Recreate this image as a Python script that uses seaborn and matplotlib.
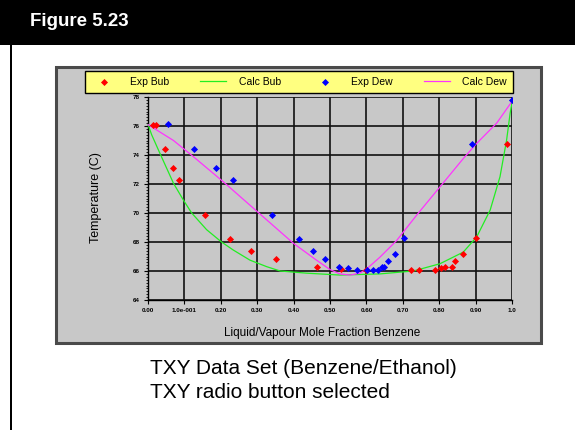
import numpy as np
import pandas as pd
import matplotlib
matplotlib.use("Agg")
import matplotlib.pyplot as plt
import matplotlib.patches as mpatches
import seaborn as sns

# experimental bubble points (liquid composition)
exp_bub_x = [0.013, 0.022, 0.047, 0.070, 0.086, 0.157, 0.225, 0.282, 0.352, 0.463, 0.530,
             0.599, 0.723, 0.745, 0.788, 0.804, 0.816, 0.834, 0.843, 0.866, 0.900, 0.985]
exp_bub_t = [76.1, 76.1, 74.4, 73.1, 72.25, 69.85, 68.2, 67.35, 66.85, 66.3, 66.12,
             66.05, 66.05, 66.05, 66.05, 66.2, 66.3, 66.3, 66.7, 67.2, 68.3, 74.75]

# experimental dew points (vapour composition)
exp_dew_x = [0.054, 0.126, 0.187, 0.233, 0.342, 0.415, 0.453, 0.487, 0.526, 0.550, 0.573,
             0.603, 0.619, 0.633, 0.642, 0.648, 0.659, 0.678, 0.702, 0.889, 0.999]
exp_dew_t = [76.15, 74.4, 73.1, 72.25, 69.85, 68.2, 67.35, 66.85, 66.3, 66.2, 66.05,
             66.05, 66.05, 66.1, 66.25, 66.3, 66.7, 67.2, 68.3, 74.75, 77.8]

# calculated curves
calc_bub_x = [0.0, 0.01, 0.033, 0.07, 0.097, 0.12, 0.161, 0.202, 0.234, 0.28, 0.326, 0.363,
              0.436, 0.527, 0.637, 0.729, 0.802, 0.866, 0.903, 0.94, 0.967, 0.985, 0.995, 1.0]
calc_bub_t = [76.1, 75.4, 74.1, 72.05, 70.9, 70.0, 68.85, 68.0, 67.45, 66.75, 66.3, 66.0,
              65.85, 65.72, 65.8, 66.0, 66.5, 67.3, 68.35, 70.2, 72.5, 75.0, 76.9, 77.6]

calc_dew_x = [0.0, 0.07, 0.124, 0.207, 0.30, 0.40, 0.46, 0.50, 0.527, 0.555, 0.582, 0.601,
              0.637, 0.683, 0.738, 0.802, 0.866, 0.903, 0.958, 1.0]
calc_dew_t = [76.1, 75.0, 73.9, 72.15, 70.1, 67.9, 66.8, 66.1, 65.8, 65.72, 65.85, 66.15,
              66.95, 68.1, 69.85, 71.8, 73.75, 74.8, 76.2, 77.7]

x_ticks = [0.0, 0.1, 0.2, 0.3, 0.4, 0.5, 0.6, 0.7, 0.8, 0.9, 1.0]
x_ticklabels = ["0.00", "1.0e-001", "0.20", "0.30", "0.40", "0.50", "0.60", "0.70", "0.80", "0.90", "1.0"]
y_ticks = [64, 66, 68, 70, 72, 74, 76, 78]

plt.rcParams["font.family"] = ["Liberation Sans", "DejaVu Sans"]

W, H = 575, 430
fig = plt.figure(figsize=(W / 100, H / 100), dpi=100)
fig.patch.set_facecolor("white")

def fx(px):
    return px / W

def fy(py):
    return 1 - py / H

# header bar and left rule
fig.patches.append(mpatches.Rectangle((0, fy(45)), 1, 45 / H, transform=fig.transFigure,
                                      facecolor="black", edgecolor="none", zorder=-5))
fig.patches.append(mpatches.Rectangle((fx(10), 0), 2 / W, fy(45), transform=fig.transFigure,
                                      facecolor="black", edgecolor="none", zorder=-5))
fig.text(fx(30), fy(22), "Figure 5.23", color="white", fontsize=13.5, fontweight="bold",
         va="center", ha="left")

# grey chart panel
fig.patches.append(mpatches.Rectangle((fx(56), fy(343)), 485 / W, 276 / H, transform=fig.transFigure,
                                      facecolor="#c8c8c8", edgecolor="#4a4a4a", linewidth=2.2, zorder=-5))

ax = fig.add_axes([fx(148), fy(300), 364 / W, 203 / H])
ax.set_facecolor("#c8c8c8")

bub = pd.DataFrame({"x": exp_bub_x, "t": exp_bub_t})
dew = pd.DataFrame({"x": exp_dew_x, "t": exp_dew_t})
cbub = pd.DataFrame({"x": calc_bub_x, "t": calc_bub_t})
cdew = pd.DataFrame({"x": calc_dew_x, "t": calc_dew_t})

sns.lineplot(data=cbub, x="x", y="t", sort=False, color="#22ee22", linewidth=0.9, ax=ax,
             label="Calc Bub", zorder=3)
sns.lineplot(data=cdew, x="x", y="t", sort=False, color="#ff33ff", linewidth=0.9, ax=ax,
             label="Calc Dew", zorder=3)
sns.scatterplot(data=bub, x="x", y="t", color="#ff0000", marker="D", s=13, linewidth=0,
                ax=ax, label="Exp Bub", zorder=4)
sns.scatterplot(data=dew, x="x", y="t", color="#0000ff", marker="D", s=13, linewidth=0,
                ax=ax, label="Exp Dew", zorder=4)

ax.set_xlim(0, 1)
ax.set_ylim(64, 78)
ax.set_xticks(x_ticks)
ax.set_xticklabels(x_ticklabels, fontsize=4.5, fontweight="bold")
ax.set_yticks(y_ticks)
ax.set_yticklabels([str(v) for v in y_ticks], fontsize=4.5, fontweight="bold")
ax.set_yticks(np.arange(64, 78.01, 0.2), minor=True)
ax.tick_params(axis="both", which="major", length=3, width=0.8, pad=3, colors="black")
ax.tick_params(axis="y", which="minor", length=1.8, width=0.6)
ax.grid(True, which="major", color="#111111", linewidth=1.2)
ax.set_axisbelow(True)
for side in ["top", "right"]:
    ax.spines[side].set_visible(False)
for side in ["left", "bottom"]:
    ax.spines[side].set_linewidth(1.0)
ax.set_xlabel("")
ax.set_ylabel("")

fig.text(fx(96), fy(198), "Temperature (C)", rotation=90, fontsize=9, ha="center", va="center")
fig.text(fx(322), fy(333), "Liquid/Vapour Mole Fraction Benzene", fontsize=8.5, ha="center", va="center")

handles, labels = ax.get_legend_handles_labels()
ax.get_legend().remove()
order = ["Exp Bub", "Calc Bub", "Exp Dew", "Calc Dew"]
hmap = dict(zip(labels, handles))
leg = fig.legend([hmap[k] for k in order], order, loc="center", ncol=4, mode="expand",
                 bbox_to_anchor=(fx(85), fy(95), 428 / W, 26 / H), fontsize=7.5,
                 frameon=True, fancybox=False, framealpha=1, facecolor="#ffff80",
                 edgecolor="black", borderaxespad=0, handlelength=2.5, handletextpad=1.2,
                 borderpad=0.6)
leg.get_frame().set_linewidth(1.0)

fig.text(fx(150), fy(368), "TXY Data Set (Benzene/Ethanol)", fontsize=15, ha="left", va="center")
fig.text(fx(150), fy(393), "TXY radio button selected", fontsize=15, ha="left", va="center")

fig.savefig("out.png", dpi=100)
